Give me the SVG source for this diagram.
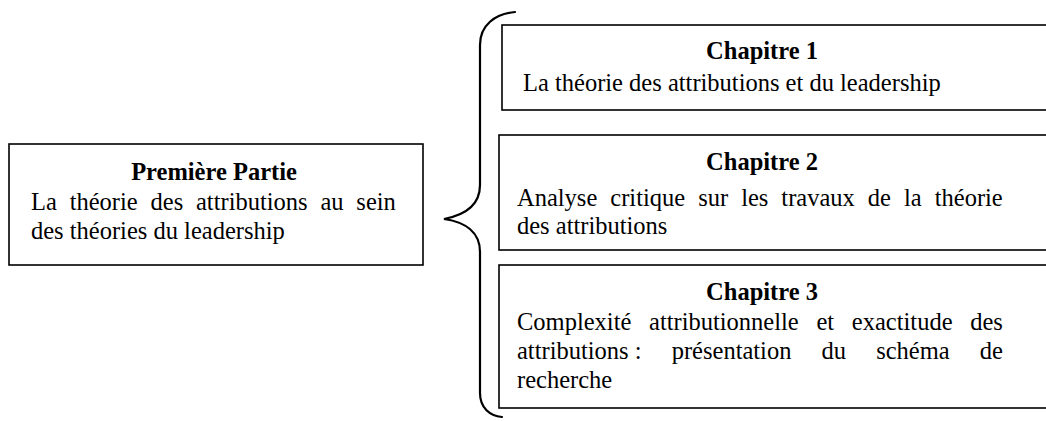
<svg xmlns="http://www.w3.org/2000/svg" width="1046" height="421" viewBox="0 0 1046 421">
<style>
.box{fill:#fff;stroke:#000;stroke-width:1.6}
.t{font-family:"Liberation Serif","Times New Roman",serif;font-size:24.5px;fill:#000}
.h{font-family:"Liberation Serif","Times New Roman",serif;font-size:24.5px;font-weight:bold;fill:#000;text-anchor:middle}
.brace{fill:none;stroke:#000;stroke-width:2.2;stroke-linecap:round}
</style>
<rect width="1046" height="421" fill="#fff"/>
<g id="connectors">
<path class="brace" d="M515,12 C495,14 480,25 480,45 L480,185 C480,205 465,215 444,219 C465,222 480,232 480,252 L480,393 C480,408 490,416 502,417"/>
</g>
<g id="partie1">
<rect class="box" x="9" y="144" width="414" height="121"/>
<text class="h" x="214" y="180">Première Partie</text>
<text class="t" x="31" y="210" word-spacing="6.7">La théorie des attributions au sein</text>
<text class="t" x="31" y="239">des théories du leadership</text>
</g>
<g id="chapitre1">
<rect class="box" x="502" y="25" width="548" height="85"/>
<text class="h" x="762" y="59">Chapitre 1</text>
<text class="t" x="523" y="91">La théorie des attributions et du leadership</text>
</g>
<g id="chapitre2">
<rect class="box" x="499" y="135" width="551" height="115"/>
<text class="h" x="762" y="170">Chapitre 2</text>
<text class="t" x="517" y="206" word-spacing="6.9">Analyse critique sur les travaux de la théorie</text>
<text class="t" x="517" y="234">des attributions</text>
</g>
<g id="chapitre3">
<rect class="box" x="499" y="265" width="551" height="143"/>
<text class="h" x="762" y="300">Chapitre 3</text>
<text class="t" x="517" y="330" word-spacing="11.6">Complexité attributionnelle et exactitude des</text>
<text class="t" y="359"><tspan x="517">attributions :</tspan> <tspan x="671.7">présentation</tspan> <tspan x="821.6">du</tspan> <tspan x="876.2">schéma</tspan> <tspan x="979.8">de</tspan></text>
<text class="t" x="517" y="388">recherche</text>
</g>
</svg>
